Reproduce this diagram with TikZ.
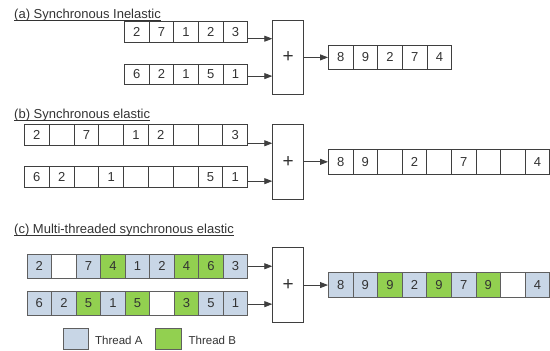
\documentclass[tikz,border=0pt]{standalone}
\usepackage{fontspec}
\setmainfont{Liberation Sans}
\usetikzlibrary{arrows.meta,calc}

\definecolor{ink}{HTML}{333333}
\definecolor{edge}{HTML}{3F3F3F}
\definecolor{tedge}{HTML}{5F5F5F}
\definecolor{threadA}{HTML}{C8D6E6}
\definecolor{threadB}{HTML}{92D050}

\tikzset{
  cell/.style={draw=edge, line width=0.8pt, inner sep=0pt, text=ink,
    font=\fontsize{13}{15}\selectfont, anchor=north west},
  w/.style={fill=white},
  tw/.style={fill=white, draw=tedge},
  A/.style={fill=threadA, draw=tedge},
  B/.style={fill=threadB, draw=tedge},
  adder/.style={draw=edge, line width=0.8pt, fill=white, inner sep=0pt,
    anchor=north west, font=\fontsize{19}{21}\selectfont, text=ink},
  feed/.style={draw=edge, line width=0.8pt, -{Triangle[length=8pt,width=6pt]}},
  title/.style={anchor=base west, inner sep=0pt, text=ink,
    font=\fontsize{13}{15}\selectfont},
  rule/.style={draw=ink, line width=0.7pt},
  legend/.style={anchor=base west, inner sep=0pt, text=ink,
    font=\fontsize{11.5}{14}\selectfont},
}

% a row of cells: name, left x, top y, cell width, cell height, style/text list
\newcommand\cellrow[6]{%
  \foreach [count=\i] \s/\t in {#6} {
    \node[cell, \s, minimum width=#4pt, minimum height=#5pt]
      (#1-\i) at ({#2+(\i-1)*#4}, #3) {\t};
  }%
}
% underlined section heading
\newcommand\heading[4]{%
  \node[title] (#1) at (#2,#3) {#4};
  \draw[rule] ([yshift=-1.6pt]#1.base west) -- ([yshift=-1.6pt]#1.base east);
}

\begin{document}
\begin{tikzpicture}[x=1pt, y=-1pt]
\useasboundingbox[fill=white] (0,0) rectangle (550,351);

% ---------- (a) synchronous inelastic ----------
\heading{ta}{14}{18.8}{(a) Synchronous Inelastic}
\cellrow{a1}{124}{21}{24.66}{20.5}{w/2,w/7,w/1,w/2,w/3}
\cellrow{a2}{124}{63.5}{24.66}{20.5}{w/6,w/2,w/1,w/5,w/1}
\node[adder, minimum width=31pt, minimum height=74pt] (pa) at (272.3,20) {+};
\cellrow{ao}{328}{45}{24.66}{24}{w/8,w/9,w/2,w/7,w/4}
\coordinate (pa-i1) at ($(pa.north west)!0.25!(pa.south west)$);
\coordinate (pa-i2) at ($(pa.north west)!0.75!(pa.south west)$);
\draw[feed] (a1-5.east |- pa-i1) -- (pa-i1);
\draw[feed] (a2-5.east |- pa-i2) -- (pa-i2);
\draw[feed] (pa.east |- ao-1.west) -- (ao-1.west);

% ---------- (b) synchronous elastic ----------
\heading{tb}{14}{118.8}{(b) Synchronous elastic}
\cellrow{b1}{24}{123.5}{24.81}{21.5}{w/2,w/{},w/7,w/{},w/1,w/2,w/{},w/{},w/3}
\cellrow{b2}{24}{165.5}{24.81}{21.5}{w/6,w/2,w/{},w/1,w/{},w/{},w/{},w/5,w/1}
\node[adder, minimum width=31pt, minimum height=75pt] (pb) at (272.3,124.3) {+};
\cellrow{bo}{328}{149.3}{24.59}{24.3}{w/8,w/9,w/{},w/2,w/{},w/7,w/{},w/{},w/4}
\coordinate (pb-i1) at ($(pb.north west)!0.25!(pb.south west)$);
\coordinate (pb-i2) at ($(pb.north west)!0.75!(pb.south west)$);
\draw[feed] (b1-9.east |- pb-i1) -- (pb-i1);
\draw[feed] (b2-9.east |- pb-i2) -- (pb-i2);
\draw[feed] (pb.east |- bo-1.west) -- (bo-1.west);

% ---------- (c) multi-threaded synchronous elastic ----------
\heading{tc}{14}{233.3}{(c) Multi-threaded synchronous elastic}
\cellrow{c1}{26.7}{254.3}{24.51}{23.3}{A/2,tw/{},A/7,B/4,A/1,A/2,B/4,B/6,A/3}
\cellrow{c2}{26.7}{291}{24.51}{24}{A/6,A/2,B/5,A/1,B/5,tw/{},B/3,A/5,A/1}
\node[adder, minimum width=31pt, minimum height=75pt] (pc) at (272.3,247.3) {+};
\cellrow{co}{328}{272.3}{24.59}{24.7}{A/8,A/9,B/9,A/2,B/9,A/7,B/9,tw/{},A/4}
\coordinate (pc-i1) at ($(pc.north west)!0.25!(pc.south west)$);
\coordinate (pc-i2) at ($(pc.north west)!0.75!(pc.south west)$);
\draw[feed] (c1-9.east |- pc-i1) -- (pc-i1);
\draw[feed] (c2-9.east |- pc-i2) -- (pc-i2);
\draw[feed] (pc.east |- co-1.west) -- (co-1.west);

% legend
\node[cell, A, minimum width=25pt, minimum height=21.5pt] (la) at (63.3,327.7) {};
\node[legend] (lta) at (95,344.5) {Thread A};
\node[cell, B, minimum width=25.5pt, minimum height=21.5pt] (lb) at (155.3,327.7) {};
\node[legend] (ltb) at (188.5,344.5) {Thread B};
\end{tikzpicture}
\end{document}
